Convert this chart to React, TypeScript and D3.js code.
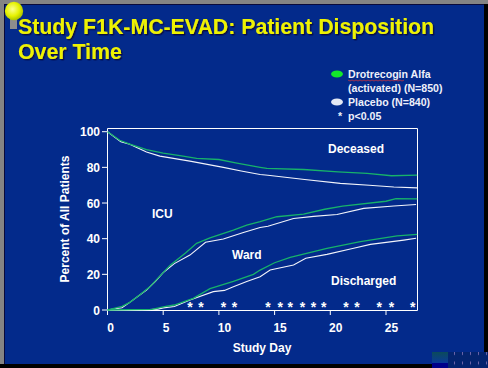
import React from "react";
import * as d3 from "d3";

const title = ["Study F1K-MC-EVAD: Patient Disposition", "Over Time"];
const legendLabels = ["Drotrecogin Alfa", "(activated) (N=850)", "Placebo (N=840)", "p<0.05"];
const regionLabels = ["Deceased", "ICU", "Ward", "Discharged"];
const yTicks = [0, 20, 40, 60, 80, 100];
const xTicks = [0, 5, 10, 15, 20, 25];
const starDays = [7.4, 8.4, 10.4, 11.4, 14.4, 15.5, 16.4, 17.5, 18.5, 19.4, 21.4, 22.4, 24.4, 25.5, 27.4];

const deceasedDrug: [number, number][] = [[0, 100], [1.1, 95.2], [2, 93], [3.5, 90], [5, 88], [6.5, 86.6], [8, 85], [10, 84.4], [11.5, 82.5], [13.7, 80], [14.3, 79.4], [17.6, 78.8], [20.7, 77.5], [23.3, 76.6], [25.5, 75.3], [27.8, 75.6]];
const deceasedPlacebo: [number, number][] = [[0, 100], [1.2, 94.3], [2, 93], [3.5, 88.6], [4.7, 86.3], [7.4, 83.5], [10.4, 80], [12, 78], [13.7, 76], [14.4, 75.6], [17.7, 73.2], [20.9, 71], [23.5, 70], [25.7, 69], [27.8, 68.5]];
const icuDrug: [number, number][] = [[0, 0], [0.5, 0.8], [1.3, 2], [2, 4.3], [3, 9], [3.8, 13], [4.7, 19], [5.6, 25], [7, 32], [8, 37.4], [9.2, 40.5], [11.3, 44.8], [12.5, 47.6], [13.7, 49.5], [15.2, 52.3], [17.6, 53.8], [19.5, 56.5], [21.1, 58.3], [25, 61], [25.9, 62.5], [27.8, 62.3]];
const icuPlacebo: [number, number][] = [[0, 0], [0.5, 0.6], [1.3, 1.3], [2, 4.3], [3.5, 11.2], [4.3, 16], [5, 21], [6, 26], [7.4, 30.8], [8.8, 38], [10.4, 39.8], [12.2, 43.5], [13.7, 46.3], [14.4, 47], [16.7, 51.3], [18.5, 52.5], [20.6, 53.6], [23, 57], [25.7, 58.3], [27.7, 59.2]];
const wardDrug: [number, number][] = [[0, 0], [4, 0.3], [5, 1.8], [6, 2.8], [7, 5], [7.7, 6.5], [9.2, 12], [11.3, 16], [13.1, 20], [13.7, 22.4], [15, 26.5], [16.4, 29.5], [19.7, 34.6], [22.7, 38.3], [26, 41.6], [27.8, 42.4]];
const wardPlacebo: [number, number][] = [[3, 0], [4.5, 0.5], [5, 1.2], [6, 2], [7.4, 5.6], [9.5, 10.3], [10.5, 11], [11.3, 13], [12.5, 16], [13.7, 18.7], [14.6, 22.4], [16.7, 25.2], [17.8, 29], [19.7, 31.2], [22, 34.5], [23.6, 36.8], [26.6, 39.2], [27.7, 40.2]];

const font = '"Liberation Sans", Arial, sans-serif';
const x = d3.scaleLinear().domain([0, 5]).range([107.5, 163.2]);
const y = d3.scaleLinear().domain([0, 100]).range([310, 131.7]);
const line = d3.line<[number, number]>().x((d) => x(d[0])).y((d) => y(d[1]));
const GREEN = "#17b26a";
const WHITE = "#f2f4fb";
const BLUE = "#032a8b";

export default function App() {
  return (
    <svg width={488} height={368} style={{ position: "absolute", left: 0, top: 0 }} fontFamily={font} fontWeight="bold">
      <defs>
        <radialGradient id="bulb" cx="0.42" cy="0.4" r="0.62">
          <stop offset="0" stopColor="#fbff90" />
          <stop offset="0.6" stopColor="#e6f200" />
          <stop offset="1" stopColor="#a8c000" />
        </radialGradient>
        <pattern id="dots" width={8} height={9.5} patternUnits="userSpaceOnUse" x={448} y={352}>
          <rect x={0} y={0} width={8} height={9.5} fill="#04246f" />
          <rect x={6} y={0} width={1} height={3} fill="#6a63a8" />
        </pattern>
        <linearGradient id="teal" x1="0" y1="0" x2="0" y2="1">
          <stop offset="0" stopColor="#0b4a5a" />
          <stop offset="1" stopColor="#0a3a9a" />
        </linearGradient>
        <filter id="titleShadow" x="-5%" y="-20%" width="110%" height="140%">
          <feDropShadow dx={1.3} dy={1.3} stdDeviation={0.25} floodColor="#10103a" floodOpacity={1} />
        </filter>
      </defs>
      <rect width={488} height={368} fill="#848484" />
      <rect x={4} y={4} width={480} height={360} fill="#0a0a3a" />
      <rect x={5} y={5} width={479} height={359} fill={BLUE} />
      <rect x={0} y={364} width={432} height={4} fill="#000" />
      <rect x={484} y={4} width={4} height={348} fill="#000" />
      <rect x={432} y={352} width={16} height={11} fill="url(#teal)" />
      <rect x={432} y={363} width={16} height={5} fill="#00008a" />
      <rect x={448} y={352} width={40} height={16} fill="url(#dots)" />

      <rect x={10} y={18} width={7} height={11} fill="#8d8d8d" />
      <circle cx={14} cy={11} r={9.2} fill="url(#bulb)" />

      <g fontSize={21.3} fill="#eef200" filter="url(#titleShadow)">
        {title.map((t, i) => (
          <text key={t} x={18} y={33.5 + i * 25.8}>{t}</text>
        ))}
      </g>

      <ellipse cx={337} cy={74} rx={6} ry={3.5} fill="#12e82a" />
      <ellipse cx={337} cy={102} rx={6} ry={3.5} fill="#e4e8f4" />
      <g fontSize={10.6} fill="#eef0fa">
        <text x={348} y={78}>{legendLabels[0]}</text>
        <path d="M348 80 l2 1 l2 -1 l2 1 l2 -1 l2 1 l2 -1 l2 1 l2 -1 l2 1 l2 -1 l2 1 l2 -1 l2 1 l2 -1 l2 1 l2 -1 l2 1 l2 -1 l2 1 l2 -1 l2 1 l2 -1 l2 1 l2 -1 l2 1 l2 -1 l2 1 l2 -1" fill="none" stroke="#c8323c" strokeWidth={0.8} />
        <text x={348} y={92}>{legendLabels[1]}</text>
        <text x={348} y={106}>{legendLabels[2]}</text>
        <text x={338} y={120}>*</text>
        <text x={348} y={120}>{legendLabels[3]}</text>
      </g>

      <path d="M107.5 128.5 H417.5 V310.5 H107.5 Z" fill="none" stroke="#fff" strokeWidth={1} />
      {yTicks.map((t) => (
        <g key={t}>
          <line x1={102} x2={107.5} y1={y(t)} y2={y(t)} stroke="#fff" />
          <text x={100} y={y(t) + 4.5} fontSize={12} fill="#fff" textAnchor="end">{t}</text>
        </g>
      ))}
      {xTicks.map((t) => (
        <g key={t}>
          <line x1={x(t)} x2={x(t)} y1={310} y2={315} stroke="#fff" />
          <text x={x(t) + (t < 10 ? 3 : 5.5)} y={332} fontSize={12} fill="#fff" textAnchor="middle">{t}</text>
        </g>
      ))}
      <text x={262} y={352} fontSize={12} fill="#fff" textAnchor="middle">Study Day</text>
      <text transform="translate(69,219) rotate(-90)" fontSize={12} fill="#fff" textAnchor="middle">Percent of All Patients</text>

      {[deceasedPlacebo, icuPlacebo, wardPlacebo].map((d, i) => (
        <path key={i} d={line(d) ?? ""} fill="none" stroke={WHITE} strokeWidth={1.1} />
      ))}
      {[deceasedDrug, icuDrug, wardDrug].map((d, i) => (
        <path key={i} d={line(d) ?? ""} fill="none" stroke={GREEN} strokeWidth={1.3} />
      ))}

      <g fontSize={12} fill="#fff">
        <text x={328} y={153}>{regionLabels[0]}</text>
        <text x={152} y={218}>{regionLabels[1]}</text>
        <text x={232} y={259}>{regionLabels[2]}</text>
        <text x={331} y={285}>{regionLabels[3]}</text>
      </g>
      {starDays.map((d) => (
        <text key={d} x={x(d)} y={312} fontSize={14} fill="#fff" textAnchor="middle">*</text>
      ))}
    </svg>
  );
}
